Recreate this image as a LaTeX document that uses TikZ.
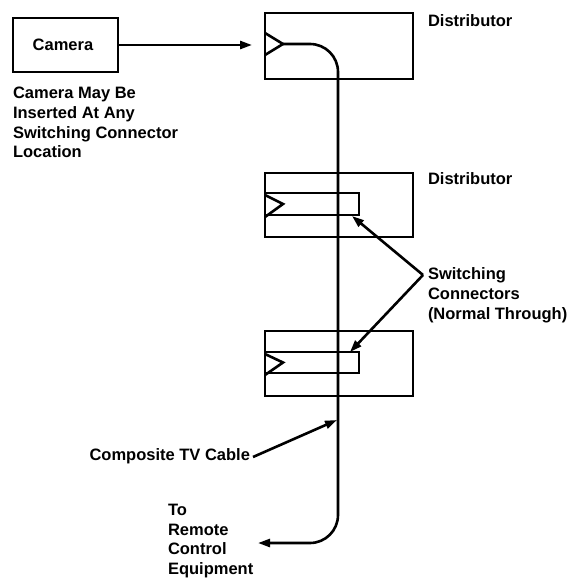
\documentclass[tikz,border=0pt]{standalone}
\usepackage{fontspec}
\setmainfont{Liberation Sans}
\usetikzlibrary{arrows.meta}
\begin{document}
\begin{tikzpicture}[x=1pt,y=-1pt,
  every node/.style={inner sep=0pt,outer sep=0pt},
  lbl/.style={font=\fontsize{16.5}{19.8}\selectfont\bfseries,align=left,anchor=north west},
  box/.style={draw,line width=2.6pt,rectangle},
  ln/.style={line width=2.6pt},
  arr/.style={line width=2.6pt,-{Triangle[length=12pt,width=8pt]}}]
\useasboundingbox (0,0) rectangle (572,578);
% camera
\node[box,minimum width=105pt,minimum height=54pt] (cam) at (65.5,45) {};
\node[font=\fontsize{16.5}{20}\selectfont\bfseries] (camt) at (63,45) {Camera};
\node[lbl] (camnote) at (13,87) {Camera May Be\\Inserted At Any\\Switching Connector\\Location};
% distributors
\node[box,minimum width=148pt,minimum height=66pt] (d1) at (339,46) {};
\node[box,minimum width=148pt,minimum height=64pt] (d2) at (339,205) {};
\node[box,minimum width=148pt,minimum height=65pt] (d3) at (339,363.5) {};
\node[lbl] (d1t) at (428,15) {Distributor};
\node[lbl] (d2t) at (428,173) {Distributor};
% switching connectors
\node[box,minimum width=94pt,minimum height=22pt] (s2) at (312,204) {};
\node[box,minimum width=94pt,minimum height=21pt] (s3) at (312,362.5) {};
% input triangle and notches
\coordinate (tip1) at (283,44);
\draw[ln,line join=miter] (d1.west |- 0,33) -- (tip1) -- (d1.west |- 0,55);
\draw[ln,line join=miter] (s2.north west) ++(0,2) -- (283,204) -- ([yshift=-2pt]s2.south west);
\draw[ln,line join=miter] (s3.north west) ++(0,2) -- (283,362.5) -- ([yshift=-2pt]s3.south west);
% cable
\coordinate (cend) at (258,543);
\draw[arr,rounded corners=28pt] (tip1) -| (338,543) -- (cend);
% camera arrow
\coordinate (camin) at (252,45);
\draw[arr] (cam.east) -- (camin);
% switching label
\node[lbl] (swt) at (428,268) {Switching\\Connectors\\(Normal Through)};
\coordinate (swp) at (423,275);
\draw[arr] (swp) -- (352,216);
\draw[arr] (swp) -- (350,352);
% composite cable label
\node[lbl,anchor=north east] (ctv) at (250,449) {Composite TV Cable};
\coordinate (ctvp) at (337,420);
\draw[arr] (ctv.east |- 0,457) ++(3,0) -- (ctvp);
% remote label
\node[lbl] (rem) at (168,504) {To\\Remote\\Control\\Equipment};
\end{tikzpicture}
\end{document}
